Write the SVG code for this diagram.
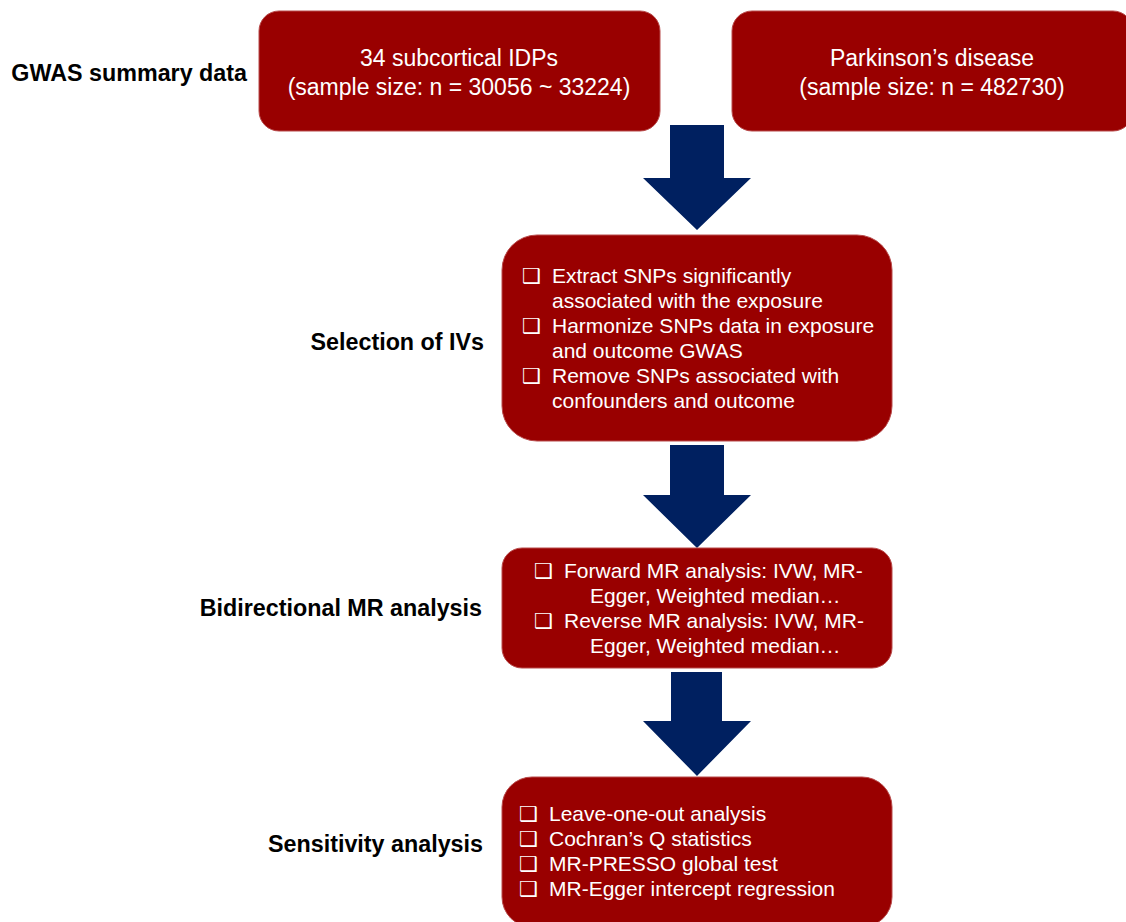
<svg xmlns="http://www.w3.org/2000/svg" width="1126" height="922" viewBox="0 0 1126 922">
<style>
.box{fill:#990000;stroke:#b84a4a;stroke-width:1}
.arrow{fill:#002060}
.lbl{font-family:"Liberation Sans",Arial,sans-serif;font-weight:bold;font-size:23.3px;fill:#000;text-anchor:end}
.t{font-family:"Liberation Sans",Arial,sans-serif;font-size:21px;fill:#fff}
.tc{font-family:"Liberation Sans",Arial,sans-serif;font-size:23px;fill:#fff;text-anchor:middle}
.cb{font-family:"DejaVu Sans",sans-serif;font-size:21px;font-weight:bold;fill:#fff}
</style>
<rect width="1126" height="922" fill="#fff"/>
<g id="labels">
<text class="lbl" x="247" y="81">GWAS summary data</text>
<text class="lbl" x="484" y="350">Selection of IVs</text>
<text class="lbl" x="482" y="616">Bidirectional MR analysis</text>
<text class="lbl" x="483" y="852">Sensitivity analysis</text>
</g>
<g id="connectors">
<polygon class="arrow" points="670,125 724,125 724,178 751,178 697,230 643,178 670,178"/>
<polygon class="arrow" points="670,445 724,445 724,495 751,495 697,548 643,495 670,495"/>
<polygon class="arrow" points="671,672 722,672 722,721 751,721 697,776 643,721 671,721"/>
</g>
<g id="node-idps">
<rect class="box" x="259" y="11" width="401" height="120" rx="20"/>
<text class="tc" x="459" y="66">34 subcortical IDPs</text>
<text class="tc" x="459" y="95">(sample size: n = 30056 ~ 33224)</text>
</g>
<g id="node-pd">
<rect class="box" x="732" y="11" width="401" height="120" rx="20"/>
<text class="tc" x="932" y="66">Parkinson’s disease</text>
<text class="tc" x="932" y="95">(sample size: n = 482730)</text>
</g>
<g id="node-ivs">
<rect class="box" x="502" y="235" width="390" height="206" rx="35"/>
<text class="cb" x="522" y="283">❑</text>
<text class="t" x="552" y="283">Extract SNPs significantly</text>
<text class="t" x="552" y="308">associated with the exposure</text>
<text class="cb" x="522" y="333">❑</text>
<text class="t" x="552" y="333">Harmonize SNPs data in exposure</text>
<text class="t" x="552" y="358">and outcome GWAS</text>
<text class="cb" x="522" y="383">❑</text>
<text class="t" x="552" y="383">Remove SNPs associated with</text>
<text class="t" x="552" y="408">confounders and outcome</text>
</g>
<g id="node-mr">
<rect class="box" x="502" y="548" width="390" height="120" rx="20"/>
<text class="cb" x="534" y="578">❑</text>
<text class="t" x="564" y="578">Forward MR analysis: IVW, MR-</text>
<text class="t" x="590" y="603">Egger, Weighted median…</text>
<text class="cb" x="534" y="628">❑</text>
<text class="t" x="564" y="628">Reverse MR analysis: IVW, MR-</text>
<text class="t" x="590" y="653">Egger, Weighted median…</text>
</g>
<g id="node-sens">
<rect class="box" x="502" y="777" width="390" height="150" rx="30"/>
<text class="cb" x="519" y="821">❑</text>
<text class="t" x="549" y="821">Leave-one-out analysis</text>
<text class="cb" x="519" y="846">❑</text>
<text class="t" x="549" y="846">Cochran’s Q statistics</text>
<text class="cb" x="519" y="871">❑</text>
<text class="t" x="549" y="871">MR-PRESSO global test</text>
<text class="cb" x="519" y="896">❑</text>
<text class="t" x="549" y="896">MR-Egger intercept regression</text>
</g>
</svg>
